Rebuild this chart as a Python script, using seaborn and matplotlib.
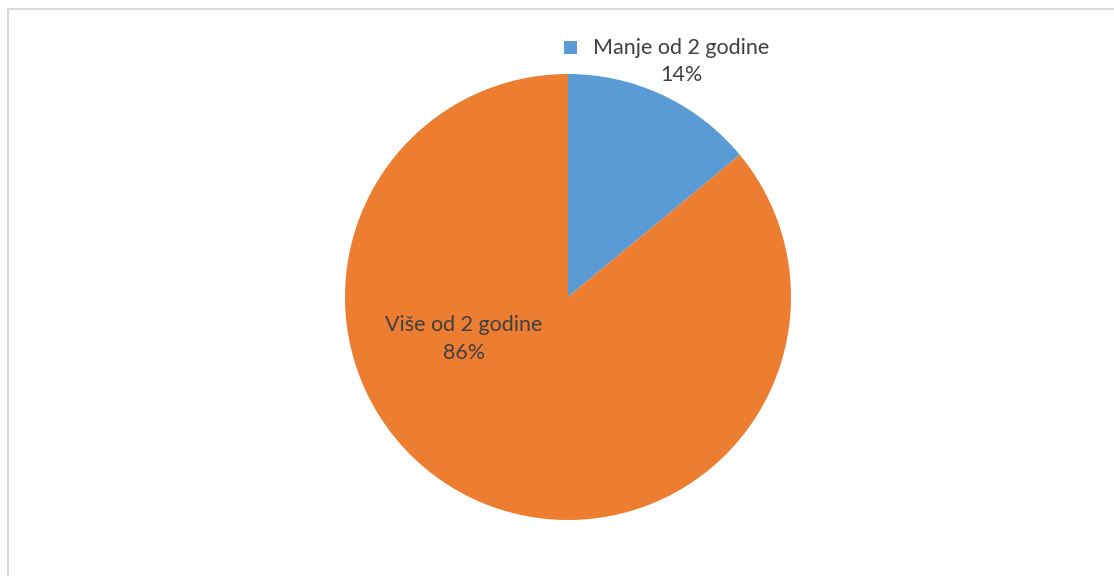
import matplotlib
matplotlib.use("Agg")
import matplotlib.pyplot as plt
import seaborn as sns
from matplotlib.patches import Rectangle

categories = ["Manje od 2 godine", "Više od 2 godine"]
values = [14, 86]
colors = ["#5B9BD5", "#ED7D31"]

sns.set_theme(style="white")
plt.rcParams['font.family'] = ['Lato', 'DejaVu Sans']

W, H = 1114, 576
fig = plt.figure(figsize=(W / 100, H / 100), dpi=100)
ax = fig.add_axes([0, 0, 1, 1])

cx, cy, r = 568, H - 297, 223
ax.pie(values, colors=colors, startangle=90, counterclock=False,
       center=(cx, cy), radius=r, frame=True,
       wedgeprops=dict(linewidth=0))
ax.set_xlim(0, W)
ax.set_ylim(0, H)
ax.set_aspect("equal")
ax.axis("off")

# chart frame
ax.add_patch(Rectangle((7.5, -10), W + 20, H - 8.5 + 10, fill=False,
                       edgecolor="#D9D9D9", linewidth=1.5))

txt = "#404040"
fs = 15.5
# label for small slice (with legend key)
ax.add_patch(Rectangle((564, H - 54), 13, 13, facecolor=colors[0], edgecolor="none"))
ax.text(681, H - 48, categories[0], ha="center", va="center", fontsize=fs, color=txt)
ax.text(681, H - 75, f"{values[0]}%", ha="center", va="center", fontsize=fs, color=txt)
# label for big slice
ax.text(464, H - 325, categories[1], ha="center", va="center", fontsize=fs, color=txt)
ax.text(464, H - 353, f"{values[1]}%", ha="center", va="center", fontsize=fs, color=txt)

fig.savefig("out.png", dpi=100, facecolor="white")
